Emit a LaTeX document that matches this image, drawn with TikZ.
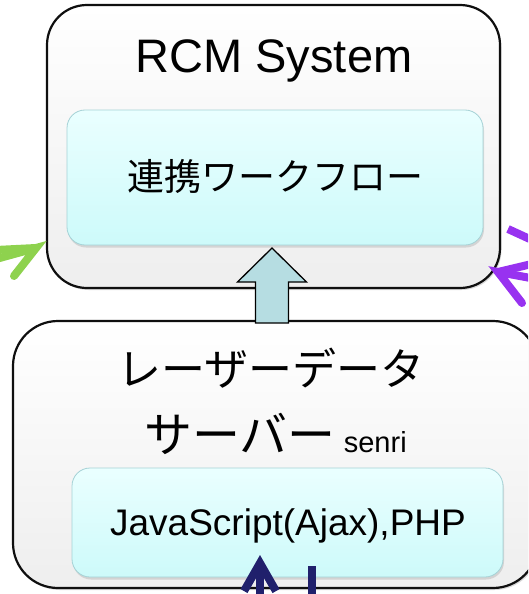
\documentclass[tikz,border=0pt]{standalone}
\usepackage{fontspec}
\setmainfont{Liberation Sans}
\newfontfamily\jpfont{Noto Sans CJK JP}
\usetikzlibrary{shadows,arrows.meta}

\definecolor{boxline}{RGB}{15,15,15}
\definecolor{panelbot}{RGB}{238,238,238}
\definecolor{cyantop}{RGB}{234,255,255}
\definecolor{cyanbot}{RGB}{205,250,250}
\definecolor{cyanline}{RGB}{165,210,214}
\definecolor{liftfill}{RGB}{182,221,226}
\definecolor{linkgreen}{RGB}{142,210,78}
\definecolor{linkpurple}{RGB}{152,50,240}
\definecolor{linknavy}{RGB}{32,32,108}

\begin{document}
\begin{tikzpicture}[x=1pt,y=-1pt,
  panel/.style={draw=boxline, line width=2.2pt, top color=white, bottom color=panelbot,
    drop shadow={shadow xshift=1.5pt, shadow yshift=-2pt, opacity=0.3}, inner sep=0pt},
  card/.style={draw=cyanline, line width=0.8pt, rounded corners=18pt, top color=cyantop, bottom color=cyanbot,
    drop shadow={shadow xshift=1pt, shadow yshift=-2.5pt, opacity=0.25}, inner sep=0pt},
  label/.style={anchor=base, inner sep=0pt, text=black},
  liftarrow/.style={draw=black, line width=1.3pt, fill=liftfill, line join=miter},
  linkline/.style={line width=8pt, line cap=round, line join=miter},
  flatline/.style={line width=8pt, line cap=butt}
]
\useasboundingbox (0,0) rectangle (528,594);
\clip (0,0) rectangle (528,594);

% upper system box
\node[panel, rounded corners=40pt, minimum width=453pt, minimum height=283pt] (rcm) at (273.5,146.5) {};
\node[label, font=\fontsize{47}{50}\selectfont] (rcmtitle) at (274,73) {RCM System};
\node[card, minimum width=416pt, minimum height=135pt] (flow) at (275,177.5) {};
\node[label, font=\jpfont\fontsize{37}{40}\selectfont] (flowtext) at (275,190) {連携ワークフロー};

% lower server box
\node[panel, rounded corners=45pt, minimum width=525pt, minimum height=267pt] (server) at (275.5,454.5) {};
\node[label, font=\jpfont\fontsize{44}{48}\selectfont] (srvline1) at (271,385) {レーザーデータ};
\node[label] (srvline2) at (275.5,452) {{\jpfont\fontsize{48}{52}\selectfont サーバー}\fontsize{29}{32}\selectfont\ senri};
\node[card, minimum width=431pt, minimum height=109pt] (js) at (287.5,522.5) {};
\node[label, font=\fontsize{37}{40}\selectfont] (jstext) at (288,535) {JavaScript(Ajax),PHP};

% block arrow from the server up to the system box
\coordinate (liftTip) at (272,248);
\coordinate (liftBase) at (272,323);
\draw[liftarrow] (liftBase) ++(-16.5,0) -- ++(0,-41) -- ++(-18,0) -- (liftTip)
  -- ++(34.5,34) -- ++(-18,0) -- ++(0,41) -- cycle;

% incoming links at the edges
\coordinate (greenUpper) at (-4,250);
\coordinate (greenTail) at (-4,259);
\coordinate (greenTip) at (36,248);
\coordinate (greenBarb) at (14,276);
\draw[linkline, draw=linkgreen] (greenUpper) -- (greenTip);
\draw[linkline, draw=linkgreen] (greenTail) -- (greenTip) -- (greenBarb);

\coordinate (purpleUpper) at (536,263);
\coordinate (purpleTail) at (536,279);
\coordinate (purpleTip) at (498,272);
\coordinate (purpleBarb) at (522,303);
\draw[linkline, draw=linkpurple] (purpleUpper) -- (purpleTip);
\draw[linkline, draw=linkpurple] (purpleTail) -- (purpleTip) -- (purpleBarb);
\coordinate (purpleA) at (508,229);
\coordinate (purpleB) at (545,246);
\draw[flatline, draw=linkpurple] (purpleA) -- (purpleB);

\coordinate (navyTail) at (260,605);
\coordinate (navyTip) at (260,555);
\draw[line width=8pt, draw=linknavy, -{Straight Barb[length=28pt,width=32pt]}] (navyTail) -- (navyTip);
\coordinate (navyA) at (312,566);
\coordinate (navyB) at (312,605);
\draw[flatline, draw=linknavy] (navyA) -- (navyB);
\end{tikzpicture}
\end{document}
